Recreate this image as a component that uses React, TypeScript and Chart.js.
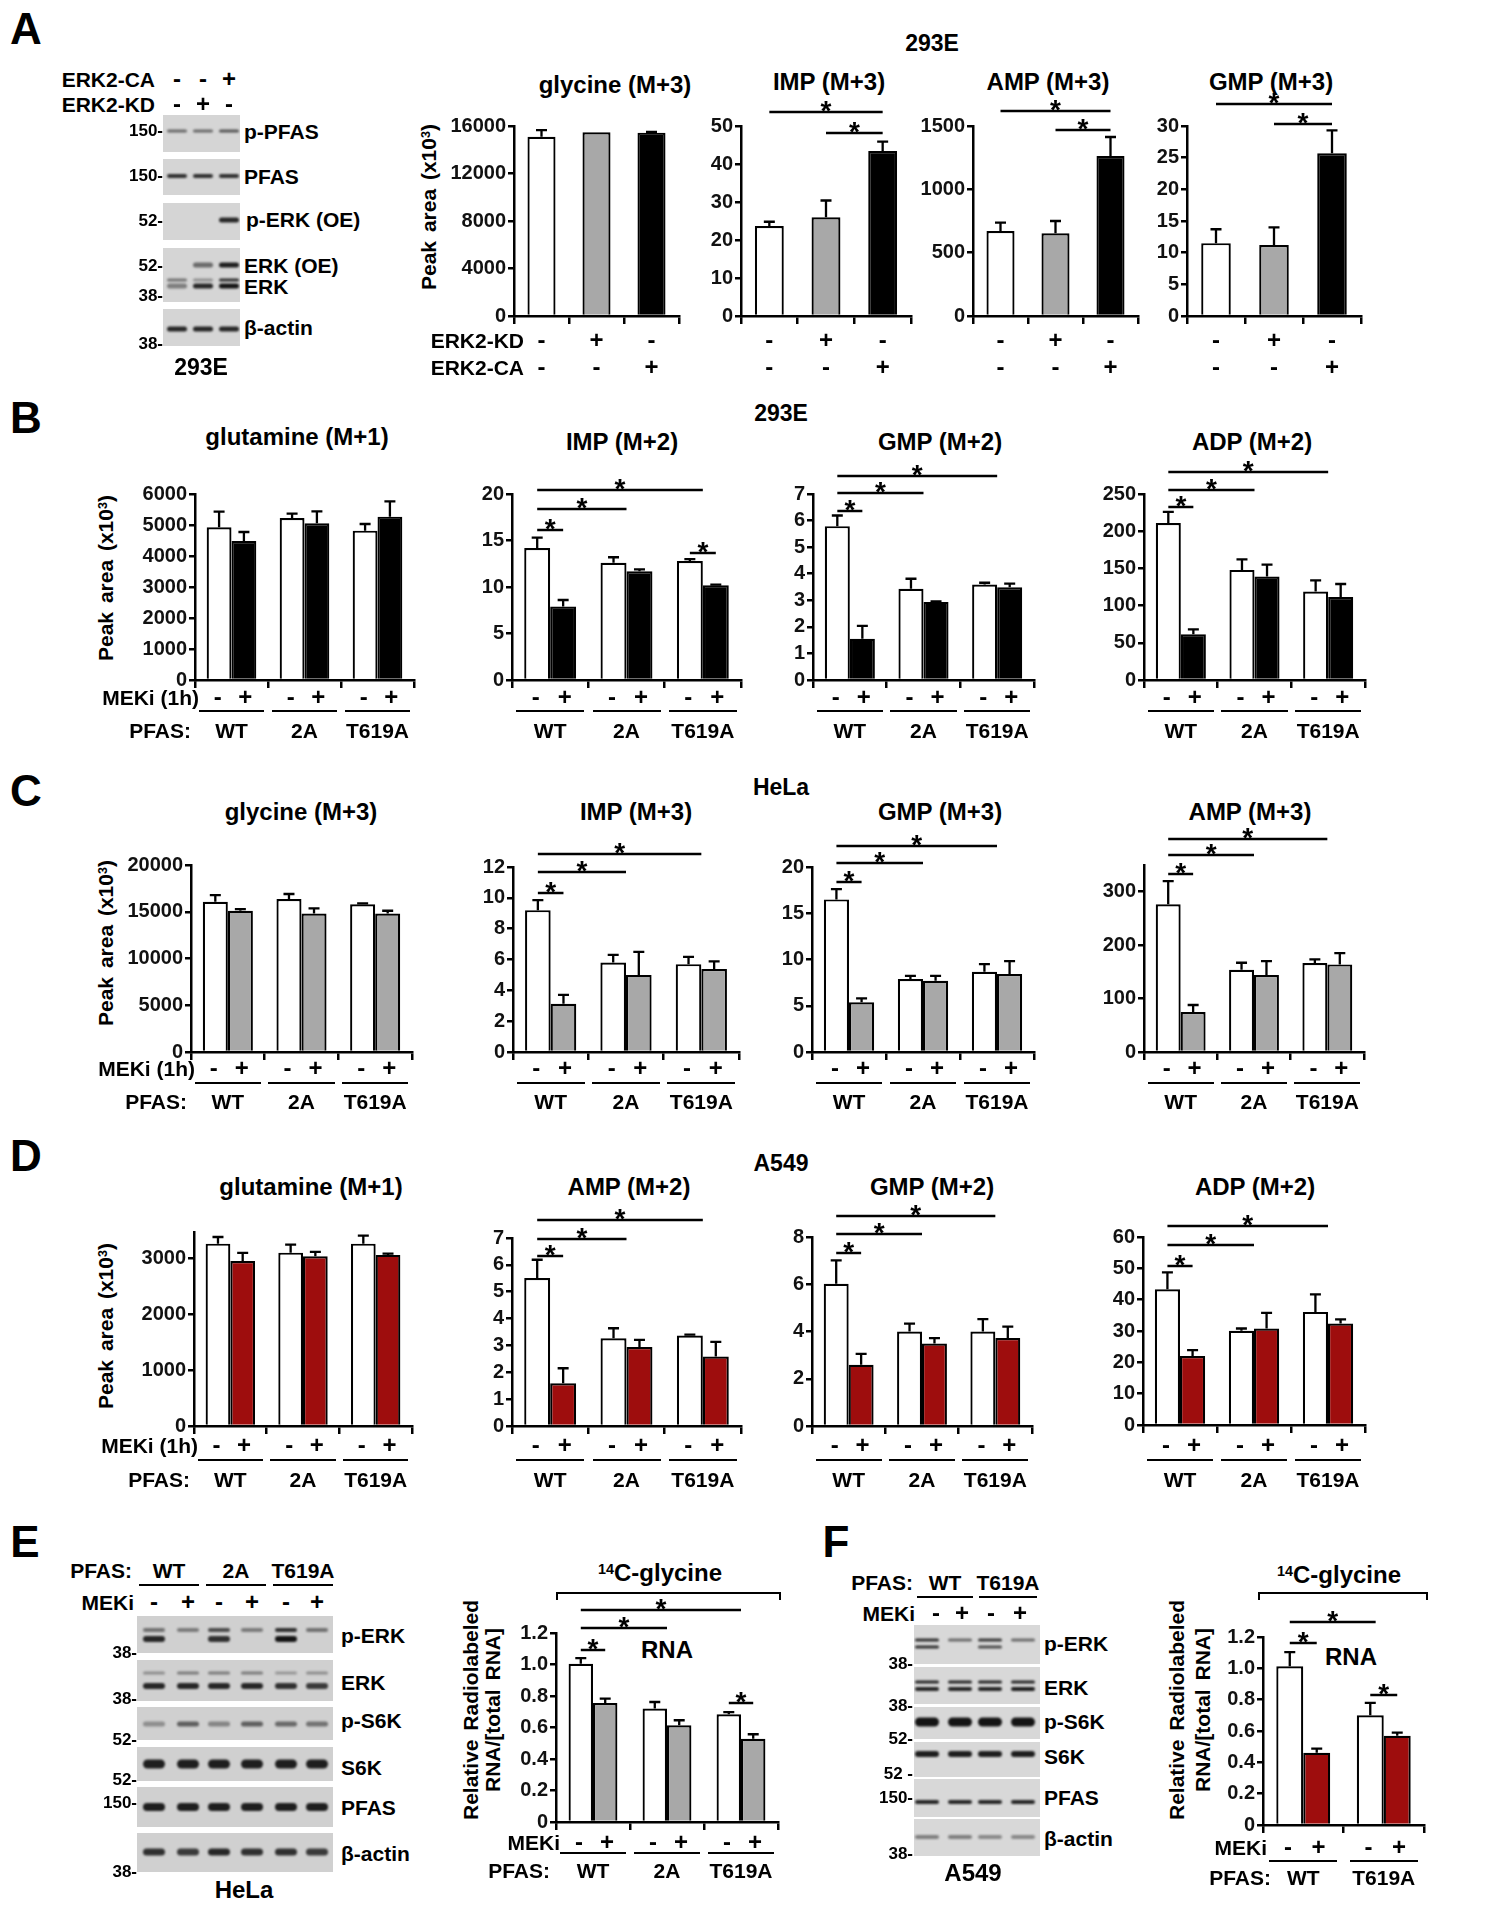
import React, { useEffect, useRef } from 'react';
import { Chart, registerables } from 'chart.js';
Chart.register(...registerables);

const FONT = '"Liberation Sans", Arial, Helvetica, sans-serif';
const WHITE = '#ffffff';
const GRAY = '#a8a8a8';
const BLACK = '#000000';
const RED = '#9e0d0d';

// ---------------- DATA ----------------
// Panel A (293E, ERK2-KD / ERK2-CA)
const A_KD_SIGNS = ['-', '+', '-'];
const A_CA_SIGNS = ['-', '-', '+'];
const A_CATS = ['ctrl', 'ERK2-KD', 'ERK2-CA'];
const A_GLY = [15100, 15470, 15440];
const A_GLY_ERR = [560, 0, 60];
const A_GLY_TICKS = [0, 4000, 8000, 12000, 16000];
const A_IMP = [23.7, 26.0, 43.4];
const A_IMP_ERR = [1.1, 4.4, 2.5];
const A_IMP_TICKS = [0, 10, 20, 30, 40, 50];
const A_AMP = [671, 653, 1263];
const A_AMP_ERR = [66, 97, 150];
const A_AMP_TICKS = [0, 500, 1000, 1500];
const A_GMP = [11.5, 11.2, 25.7];
const A_GMP_ERR = [2.2, 2.8, 3.6];
const A_GMP_TICKS = [0, 5, 10, 15, 20, 25, 30];

// groups
const PFAS3 = ['WT', '2A', 'T619A'];
const PFAS2 = ['WT', 'T619A'];
const MEKI_SIGNS = ['-', '+'];

// Panel B (293E)
const B_GLN_CTRL = [4925, 5226, 4817];
const B_GLN_CTRL_ERR = [505, 140, 215];
const B_GLN_MEKI = [4484, 5054, 5269];
const B_GLN_MEKI_ERR = [290, 387, 494];
const B_GLN_TICKS = [0, 1000, 2000, 3000, 4000, 5000, 6000];
const B_IMP_CTRL = [14.2, 12.6, 12.8];
const B_IMP_CTRL_ERR = [1.1, 0.6, 0.2];
const B_IMP_MEKI = [7.9, 11.7, 10.2];
const B_IMP_MEKI_ERR = [0.7, 0.2, 0.05];
const B_IMP_TICKS = [0, 5, 10, 15, 20];
const B_GMP_CTRL = [5.79, 3.43, 3.59];
const B_GMP_CTRL_ERR = [0.4, 0.38, 0.07];
const B_GMP_MEKI = [1.55, 2.94, 3.49];
const B_GMP_MEKI_ERR = [0.49, 0.02, 0.14];
const B_GMP_TICKS = [0, 1, 2, 3, 4, 5, 6, 7];
const B_ADP_CTRL = [211, 148, 119];
const B_ADP_CTRL_ERR = [15, 14, 15];
const B_ADP_MEKI = [61.6, 139, 111.6];
const B_ADP_MEKI_ERR = [6.4, 16, 17.4];
const B_ADP_TICKS = [0, 50, 100, 150, 200, 250];

// Panel C (HeLa)
const C_GLY_CTRL = [16070, 16360, 15790];
const C_GLY_CTRL_ERR = [715, 536, 107];
const C_GLY_MEKI = [15110, 14820, 14820];
const C_GLY_MEKI_ERR = [178, 536, 286];
const C_GLY_TICKS = [0, 5000, 10000, 15000, 20000];
const C_IMP_CTRL = [9.2, 5.8, 5.7];
const C_IMP_CTRL_ERR = [0.65, 0.5, 0.47];
const C_IMP_MEKI = [3.13, 5.0, 5.38];
const C_IMP_MEKI_ERR = [0.57, 1.49, 0.5];
const C_IMP_TICKS = [0, 2, 4, 6, 8, 10, 12];
const C_GMP_CTRL = [16.5, 7.9, 8.67];
const C_GMP_CTRL_ERR = [1.1, 0.34, 0.83];
const C_GMP_MEKI = [5.38, 7.7, 8.42];
const C_GMP_MEKI_ERR = [0.42, 0.54, 1.4];
const C_GMP_TICKS = [0, 5, 10, 15, 20];
const C_AMP_CTRL = [276.5, 154, 166.7];
const C_AMP_CTRL_ERR = [43.5, 13, 6.8];
const C_AMP_MEKI = [74.7, 144, 164];
const C_AMP_MEKI_ERR = [13.3, 26, 21];
const C_AMP_TICKS = [0, 100, 200, 300];

// Panel D (A549)
const D_GLN_CTRL = [3262, 3101, 3262];
const D_GLN_CTRL_ERR = [119, 143, 143];
const D_GLN_MEKI = [2952, 3036, 3060];
const D_GLN_MEKI_ERR = [143, 77, 23];
const D_GLN_TICKS = [0, 1000, 2000, 3000];
const D_AMP_CTRL = [5.51, 3.27, 3.37];
const D_AMP_CTRL_ERR = [0.68, 0.37, 0.03];
const D_AMP_MEKI = [1.59, 2.94, 2.59];
const D_AMP_MEKI_ERR = [0.56, 0.27, 0.54];
const D_AMP_TICKS = [0, 1, 2, 3, 4, 5, 6, 7];
const D_GMP_CTRL = [6.02, 4.0, 4.0];
const D_GMP_CTRL_ERR = [0.99, 0.33, 0.52];
const D_GMP_MEKI = [2.59, 3.49, 3.72];
const D_GMP_MEKI_ERR = [0.46, 0.23, 0.49];
const D_GMP_TICKS = [0, 2, 4, 6, 8];
const D_ADP_CTRL = [43.3, 30.1, 36.1];
const D_ADP_CTRL_ERR = [5.4, 0.7, 5.6];
const D_ADP_MEKI = [22.0, 30.8, 32.4];
const D_ADP_MEKI_ERR = [1.9, 5.0, 1.3];
const D_ADP_TICKS = [0, 10, 20, 30, 40, 50, 60];

// Panel E / F (14C-glycine RNA)
const RNA_TICKS = [0, 0.2, 0.4, 0.6, 0.8, 1.0, 1.2];
const E_CTRL = [1.005, 0.72, 0.684];
const E_CTRL_ERR = [0.035, 0.042, 0.014];
const E_MEKI = [0.756, 0.614, 0.529];
const E_MEKI_ERR = [0.027, 0.032, 0.028];
const F_CTRL = [1.013, 0.701];
const F_CTRL_ERR = [0.091, 0.078];
const F_MEKI = [0.461, 0.569];
const F_MEKI_ERR = [0.027, 0.021];

// ---------------- TYPES / HELPERS ----------------
type Series = { data: number[]; err: number[]; color: string | string[] };
type Sig = { a: [number, number]; b: [number, number]; ea?: number; eb?: number; y: number };
type Spec = {
  left: number; right: number; top: number; bottom: number;
  max: number; ticks: number[]; fmt?: (v: number) => string;
  labels: string[]; series: Series[]; catPct: number; barPct: number; sig: Sig[];
};

const YW = 90, PT = 80, PR = 14, XH = 14;

const errPlugin = {
  id: 'errbars',
  afterDatasetsDraw(chart: any) {
    const ctx = chart.ctx;
    const ys = chart.scales.y;
    chart.data.datasets.forEach((ds: any, di: number) => {
      const meta = chart.getDatasetMeta(di);
      meta.data.forEach((el: any, i: number) => {
        const e = ds.errs[i];
        if (!e) return;
        const yt = ys.getPixelForValue(ds.data[i] + e);
        ctx.save();
        ctx.strokeStyle = '#000';
        ctx.lineWidth = 2.3;
        ctx.beginPath();
        ctx.moveTo(el.x, el.y);
        ctx.lineTo(el.x, yt);
        ctx.moveTo(el.x - 5.5, yt);
        ctx.lineTo(el.x + 5.5, yt);
        ctx.stroke();
        ctx.restore();
      });
    });
  },
};

function sigPlugin(sigs: Sig[], cy: number) {
  return {
    id: 'sig',
    afterDraw(chart: any) {
      const ctx = chart.ctx;
      ctx.save();
      ctx.strokeStyle = '#000';
      ctx.fillStyle = '#000';
      ctx.lineWidth = 2.5;
      ctx.font = `bold 28px ${FONT}`;
      ctx.textAlign = 'center';
      ctx.textBaseline = 'alphabetic';
      sigs.forEach((sg) => {
        const ea = chart.getDatasetMeta(sg.a[0]).data[sg.a[1]];
        const eb = chart.getDatasetMeta(sg.b[0]).data[sg.b[1]];
        const x1 = ea.x + (sg.ea ?? 0) * ea.width / 2;
        const x2 = eb.x + (sg.eb ?? 0) * eb.width / 2;
        const y = sg.y - cy;
        ctx.beginPath();
        ctx.moveTo(x1, y);
        ctx.lineTo(x2, y);
        ctx.stroke();
        ctx.fillText('*', (x1 + x2) / 2, y + 8);
      });
      ctx.restore();
    },
  };
}

function BarChart({ s }: { s: Spec }) {
  const ref = useRef<HTMLCanvasElement>(null);
  const W = s.right - s.left + YW + PR;
  const H = s.bottom - s.top + PT + XH;
  const cx = s.left - YW;
  const cy = s.top - PT;
  useEffect(() => {
    const fmt = s.fmt || ((v: number) => String(v));
    const chart = new Chart(ref.current as HTMLCanvasElement, {
      type: 'bar',
      data: {
        labels: s.labels,
        datasets: s.series.map((se) => ({
          data: se.data,
          errs: se.err,
          backgroundColor: se.color,
          borderColor: '#000',
          borderWidth: 2.2,
          categoryPercentage: s.catPct,
          barPercentage: s.barPct,
        })) as any,
      },
      options: {
        responsive: false,
        animation: false,
        devicePixelRatio: 1,
        layout: { padding: { top: PT, right: PR, left: 0, bottom: 0 } },
        plugins: { legend: { display: false }, tooltip: { enabled: false }, title: { display: false } },
        scales: {
          x: {
            grid: { offset: true, drawOnChartArea: false, drawTicks: true, tickLength: 8, color: '#000', lineWidth: 2.5 },
            border: { color: '#000', width: 2.5 },
            ticks: { display: false },
            afterFit: (sc: any) => { sc.height = XH; },
          },
          y: {
            min: 0,
            max: s.max,
            grid: { drawOnChartArea: false, tickLength: 6, color: '#000', lineWidth: 2.5 },
            border: { color: '#000', width: 2.5 },
            ticks: {
              color: '#111',
              padding: 2,
              font: { size: 20, weight: 'bold', family: FONT },
              callback: (v: any) => fmt(Number(v)),
            },
            afterBuildTicks: (sc: any) => { sc.ticks = s.ticks.map((v) => ({ value: v })); },
            afterFit: (sc: any) => { sc.width = YW; },
          },
        },
      } as any,
      plugins: [errPlugin, sigPlugin(s.sig, cy)],
    });
    return () => chart.destroy();
  }, []);
  return <canvas ref={ref} width={W} height={H} style={{ position: 'absolute', left: cx, top: cy }} />;
}

function Txt({ x, y, size = 21, align = 'center', weight = 700, children, style }: any) {
  const tx = align === 'center' ? '-50%' : align === 'right' ? '-100%' : '0';
  return (
    <div style={{ position: 'absolute', left: x, top: y, transform: `translate(${tx}, -50%)`, fontSize: size, fontWeight: weight, lineHeight: 1, whiteSpace: 'nowrap', ...style }}>
      {children}
    </div>
  );
}

function VTitle({ x, y, size = 21, children, lh = 1.15 }: any) {
  return (
    <div style={{ position: 'absolute', left: x, top: y, transform: 'translate(-50%, -50%) rotate(-90deg)', fontSize: size, fontWeight: 700, lineHeight: lh, whiteSpace: 'nowrap', textAlign: 'center', wordSpacing: 3 }}>
      {children}
    </div>
  );
}

function HLine({ x1, x2, y, w = 2.5 }: any) {
  return <div style={{ position: 'absolute', left: x1, top: y - w / 2, width: x2 - x1, height: w, background: '#000' }} />;
}

const Sup = ({ children }: any) => <span style={{ fontSize: '0.6em', position: 'relative', top: '-0.5em' }}>{children}</span>;
const PeakTitle = () => <>Peak area (x10<Sup>3</Sup>)</>;

function GroupRows({ s, ys, meki, pfasDx }: { s: Spec; ys: number[]; meki?: string; pfasDx?: number }) {
  const n = s.labels.length;
  const gw = (s.right - s.left) / n;
  const out: any[] = [];
  s.labels.forEach((lab, i) => {
    const c = s.left + (i + 0.5) * gw;
    const d = 0.19 * gw;
    out.push(<Txt key={'m' + i} x={c - d} y={ys[0]} size={24}>{MEKI_SIGNS[0]}</Txt>);
    out.push(<Txt key={'p' + i} x={c + d} y={ys[0]} size={24}>{MEKI_SIGNS[1]}</Txt>);
    const hw = Math.min(0.45 * gw, 34);
    out.push(<HLine key={'l' + i} x1={c - hw} x2={c + hw} y={ys[1]} />);
    out.push(<Txt key={'n' + i} x={c} y={ys[2]}>{lab}</Txt>);
  });
  if (meki) out.push(<Txt key="meki" x={s.left + 4} y={ys[0]} align="right">{meki}</Txt>);
  if (pfasDx !== undefined) out.push(<Txt key="pfas" x={s.left + pfasDx} y={ys[2]} align="right">PFAS:</Txt>);
  return <>{out}</>;
}

function ARows({ s, first }: { s: Spec; first?: boolean }) {
  const gw = (s.right - s.left) / 3;
  const out: any[] = [];
  for (let i = 0; i < 3; i++) {
    const c = s.left + (i + 0.5) * gw;
    out.push(<Txt key={'k' + i} x={c} y={340} size={24}>{A_KD_SIGNS[i]}</Txt>);
    out.push(<Txt key={'c' + i} x={c} y={367} size={24}>{A_CA_SIGNS[i]}</Txt>);
  }
  if (first) {
    out.push(<Txt key="kd" x={s.left + 10} y={340} align="right">ERK2-KD</Txt>);
    out.push(<Txt key="ca" x={s.left + 10} y={367} align="right">ERK2-CA</Txt>);
  }
  return <>{out}</>;
}

type Band = { y: number; h: number; v: number[] };
type Strip = { y0: number; y1: number; bands: Band[] };

function Blot({ x0, x1, lanes, laneW, strips, bg }: { x0: number; x1: number; lanes: number[]; laneW: number; strips: Strip[]; bg: string }) {
  const ref = useRef<HTMLCanvasElement>(null);
  const top = Math.min(...strips.map((s) => s.y0));
  const bottom = Math.max(...strips.map((s) => s.y1));
  useEffect(() => {
    const ctx = (ref.current as HTMLCanvasElement).getContext('2d') as CanvasRenderingContext2D;
    ctx.clearRect(0, 0, x1 - x0, bottom - top);
    strips.forEach((st) => {
      ctx.fillStyle = bg;
      ctx.fillRect(0, st.y0 - top, x1 - x0, st.y1 - st.y0);
      st.bands.forEach((b) => {
        b.v.forEach((v, i) => {
          if (v <= 0) return;
          ctx.save();
          ctx.filter = 'blur(0.8px)';
          ctx.fillStyle = `rgba(20,20,20,${v})`;
          const cxx = lanes[i] - x0;
          ctx.beginPath();
          (ctx as any).roundRect(cxx - laneW / 2, b.y - top - b.h / 2, laneW, b.h, b.h / 2);
          ctx.fill();
          ctx.restore();
        });
      });
    });
  }, []);
  return <canvas ref={ref} width={x1 - x0} height={bottom - top} style={{ position: 'absolute', left: x0, top }} />;
}

// ---------------- CHART SPECS ----------------
const sig3 = (y1: number, y2: number, y3: number): Sig[] => [
  { a: [0, 0], b: [1, 0], y: y1 },
  { a: [0, 0], b: [0, 1], eb: 1, y: y2 },
  { a: [0, 0], b: [0, 2], eb: 1, y: y3 },
];
const aSig = (y1: number, y2: number): Sig[] => [
  { a: [0, 0], b: [0, 2], y: y1 },
  { a: [0, 1], b: [0, 2], y: y2 },
];
const A_COLORS = [WHITE, GRAY, BLACK];
const pair = (c: number[], ce: number[], m: number[], me: number[], col: string): Series[] => [
  { data: c, err: ce, color: WHITE },
  { data: m, err: me, color: col },
];

const S: Record<string, Spec> = {
  A1: { left: 514, right: 679, top: 126, bottom: 316, max: 16000, ticks: A_GLY_TICKS, labels: A_CATS, series: [{ data: A_GLY, err: A_GLY_ERR, color: A_COLORS }], catPct: 1, barPct: 0.51, sig: [] },
  A2: { left: 741, right: 911, top: 126, bottom: 316, max: 50, ticks: A_IMP_TICKS, labels: A_CATS, series: [{ data: A_IMP, err: A_IMP_ERR, color: A_COLORS }], catPct: 1, barPct: 0.51, sig: aSig(112, 133) },
  A3: { left: 973, right: 1138, top: 126, bottom: 316, max: 1500, ticks: A_AMP_TICKS, labels: A_CATS, series: [{ data: A_AMP, err: A_AMP_ERR, color: A_COLORS }], catPct: 1, barPct: 0.51, sig: aSig(111, 130) },
  A4: { left: 1187, right: 1361, top: 126, bottom: 316, max: 30, ticks: A_GMP_TICKS, labels: A_CATS, series: [{ data: A_GMP, err: A_GMP_ERR, color: A_COLORS }], catPct: 1, barPct: 0.51, sig: aSig(104, 124) },

  B1: { left: 195, right: 414, top: 494, bottom: 680, max: 6000, ticks: B_GLN_TICKS, labels: PFAS3, series: pair(B_GLN_CTRL, B_GLN_CTRL_ERR, B_GLN_MEKI, B_GLN_MEKI_ERR, BLACK), catPct: 0.68, barPct: 1, sig: [] },
  B2: { left: 512, right: 741, top: 494, bottom: 680, max: 20, ticks: B_IMP_TICKS, labels: PFAS3, series: pair(B_IMP_CTRL, B_IMP_CTRL_ERR, B_IMP_MEKI, B_IMP_MEKI_ERR, BLACK), catPct: 0.68, barPct: 1, sig: [...sig3(530, 509, 490), { a: [0, 2], b: [1, 2], y: 553 }] },
  B3: { left: 813, right: 1034, top: 494, bottom: 680, max: 7, ticks: B_GMP_TICKS, labels: PFAS3, series: pair(B_GMP_CTRL, B_GMP_CTRL_ERR, B_GMP_MEKI, B_GMP_MEKI_ERR, BLACK), catPct: 0.68, barPct: 1, sig: sig3(511, 493, 476) },
  B4: { left: 1144, right: 1365, top: 494, bottom: 680, max: 250, ticks: B_ADP_TICKS, labels: PFAS3, series: pair(B_ADP_CTRL, B_ADP_CTRL_ERR, B_ADP_MEKI, B_ADP_MEKI_ERR, BLACK), catPct: 0.68, barPct: 1, sig: sig3(507, 490, 472) },

  C1: { left: 191, right: 412, top: 865, bottom: 1052, max: 20000, ticks: C_GLY_TICKS, labels: PFAS3, series: pair(C_GLY_CTRL, C_GLY_CTRL_ERR, C_GLY_MEKI, C_GLY_MEKI_ERR, GRAY), catPct: 0.68, barPct: 1, sig: [] },
  C2: { left: 513, right: 739, top: 867, bottom: 1052, max: 12, ticks: C_IMP_TICKS, labels: PFAS3, series: pair(C_IMP_CTRL, C_IMP_CTRL_ERR, C_IMP_MEKI, C_IMP_MEKI_ERR, GRAY), catPct: 0.68, barPct: 1, sig: sig3(893, 872, 854) },
  C3: { left: 812, right: 1034, top: 867, bottom: 1052, max: 20, ticks: C_GMP_TICKS, labels: PFAS3, series: pair(C_GMP_CTRL, C_GMP_CTRL_ERR, C_GMP_MEKI, C_GMP_MEKI_ERR, GRAY), catPct: 0.68, barPct: 1, sig: sig3(882, 863, 846) },
  C4: { left: 1144, right: 1364, top: 865, bottom: 1052, max: 350, ticks: C_AMP_TICKS, labels: PFAS3, series: pair(C_AMP_CTRL, C_AMP_CTRL_ERR, C_AMP_MEKI, C_AMP_MEKI_ERR, GRAY), catPct: 0.68, barPct: 1, sig: sig3(874, 855, 839) },

  D1: { left: 194, right: 412, top: 1232, bottom: 1426, max: 3470, ticks: D_GLN_TICKS, labels: PFAS3, series: pair(D_GLN_CTRL, D_GLN_CTRL_ERR, D_GLN_MEKI, D_GLN_MEKI_ERR, RED), catPct: 0.68, barPct: 1, sig: [] },
  D2: { left: 512, right: 741, top: 1238, bottom: 1426, max: 7, ticks: D_AMP_TICKS, labels: PFAS3, series: pair(D_AMP_CTRL, D_AMP_CTRL_ERR, D_AMP_MEKI, D_AMP_MEKI_ERR, RED), catPct: 0.68, barPct: 1, sig: sig3(1256, 1239, 1220) },
  D3: { left: 812, right: 1032, top: 1237, bottom: 1426, max: 8, ticks: D_GMP_TICKS, labels: PFAS3, series: pair(D_GMP_CTRL, D_GMP_CTRL_ERR, D_GMP_MEKI, D_GMP_MEKI_ERR, RED), catPct: 0.68, barPct: 1, sig: sig3(1253, 1234, 1216) },
  D4: { left: 1143, right: 1365, top: 1237, bottom: 1425, max: 60, ticks: D_ADP_TICKS, labels: PFAS3, series: pair(D_ADP_CTRL, D_ADP_CTRL_ERR, D_ADP_MEKI, D_ADP_MEKI_ERR, RED), catPct: 0.68, barPct: 1, sig: sig3(1266, 1245, 1226) },

  E: { left: 556, right: 778, top: 1633, bottom: 1822, max: 1.2, ticks: RNA_TICKS, fmt: (v) => (v === 0 ? '0' : v.toFixed(1)), labels: PFAS3, series: pair(E_CTRL, E_CTRL_ERR, E_MEKI, E_MEKI_ERR, GRAY), catPct: 0.66, barPct: 1, sig: [...sig3(1650, 1628, 1610), { a: [0, 2], b: [1, 2], y: 1703 }] },
  F: { left: 1263, right: 1424, top: 1637, bottom: 1825, max: 1.2, ticks: RNA_TICKS, fmt: (v) => (v === 0 ? '0' : v.toFixed(1)), labels: PFAS2, series: pair(F_CTRL, F_CTRL_ERR, F_MEKI, F_MEKI_ERR, RED), catPct: 0.67, barPct: 1, sig: [{ a: [0, 0], b: [1, 0], y: 1643 }, { a: [0, 0], b: [0, 1], eb: 0.4, y: 1622 }, { a: [0, 1], b: [1, 1], y: 1695 }] },
};

// ---------------- BLOT LAYOUTS ----------------
const BLOT_A: Strip[] = [
  { y0: 115, y1: 152, bands: [{ y: 131, h: 3, v: [0.55, 0.55, 0.65] }] },
  { y0: 159, y1: 195, bands: [{ y: 176, h: 4, v: [0.85, 0.85, 0.85] }] },
  { y0: 203, y1: 240, bands: [{ y: 220, h: 5, v: [0, 0, 0.9] }] },
  { y0: 248, y1: 302, bands: [{ y: 265, h: 5, v: [0, 0.55, 0.95] }, { y: 280, h: 3, v: [0.5, 0.35, 0.85] }, { y: 286, h: 5, v: [0.45, 0.9, 1] }] },
  { y0: 309, y1: 346, bands: [{ y: 329, h: 5, v: [0.9, 0.9, 0.9] }] },
];
const BLOT_E: Strip[] = [
  { y0: 1616, y1: 1653, bands: [{ y: 1630, h: 4, v: [0.5, 0.45, 0.7, 0.45, 0.85, 0.5] }, { y: 1639, h: 6, v: [0.9, 0, 0.85, 0, 1, 0] }] },
  { y0: 1660, y1: 1701, bands: [{ y: 1673, h: 3, v: [0.35, 0.45, 0.45, 0.45, 0.3, 0.35] }, { y: 1686, h: 6, v: [0.9, 0.9, 0.9, 0.9, 0.85, 0.8] }] },
  { y0: 1707, y1: 1740, bands: [{ y: 1724, h: 5, v: [0.35, 0.6, 0.4, 0.6, 0.55, 0.5] }] },
  { y0: 1747, y1: 1781, bands: [{ y: 1764, h: 9, v: [0.95, 0.95, 0.95, 0.95, 0.95, 0.95] }] },
  { y0: 1787, y1: 1827, bands: [{ y: 1807, h: 8, v: [0.95, 0.95, 0.95, 0.95, 0.95, 0.95] }] },
  { y0: 1833, y1: 1872, bands: [{ y: 1852, h: 7, v: [0.85, 0.8, 0.9, 0.85, 0.85, 0.8] }] },
];
const BLOT_F: Strip[] = [
  { y0: 1625, y1: 1664, bands: [{ y: 1640, h: 3, v: [0.85, 0.55, 0.8, 0.55] }, { y: 1647, h: 3, v: [0.85, 0, 0.7, 0] }] },
  { y0: 1667, y1: 1704, bands: [{ y: 1682, h: 3, v: [0.9, 0.9, 0.9, 0.9] }, { y: 1689, h: 4, v: [0.9, 0.9, 0.9, 0.95] }] },
  { y0: 1707, y1: 1739, bands: [{ y: 1722, h: 9, v: [1, 1, 1, 1] }] },
  { y0: 1742, y1: 1777, bands: [{ y: 1754, h: 6, v: [0.95, 0.95, 0.95, 0.95] }] },
  { y0: 1779, y1: 1817, bands: [{ y: 1802, h: 4, v: [0.9, 0.9, 0.9, 0.9] }] },
  { y0: 1819, y1: 1856, bands: [{ y: 1837, h: 4, v: [0.45, 0.45, 0.4, 0.4] }] },
];

export default function App() {
  const ML = 17; // MW label font size
  const LS = 44; // panel letter size
  return (
    <div style={{ position: 'absolute', left: 0, top: 0, width: 1494, height: 1920, background: '#fff', overflow: 'hidden', fontFamily: FONT, color: '#000' }}>
      {/* Panel letters */}
      <Txt x={26} y={29} size={LS}>A</Txt>
      <Txt x={26} y={418} size={LS}>B</Txt>
      <Txt x={26} y={791} size={LS}>C</Txt>
      <Txt x={26} y={1156} size={LS}>D</Txt>
      <Txt x={25} y={1542} size={LS}>E</Txt>
      <Txt x={836} y={1542} size={LS}>F</Txt>

      {/* ---- Panel A blot ---- */}
      <Blot x0={163} x1={240} lanes={[177, 203, 229]} laneW={20} strips={BLOT_A} bg="#d5d5d5" />
      <Txt x={155} y={79} align="right">ERK2-CA</Txt>
      <Txt x={155} y={104} align="right">ERK2-KD</Txt>
      {A_CA_SIGNS.map((t, i) => <Txt key={'aca' + i} x={[177, 203, 229][i]} y={79} size={24}>{t}</Txt>)}
      {A_KD_SIGNS.map((t, i) => <Txt key={'akd' + i} x={[177, 203, 229][i]} y={104} size={24}>{t}</Txt>)}
      <Txt x={163} y={130} size={ML} align="right">150-</Txt>
      <Txt x={163} y={175} size={ML} align="right">150-</Txt>
      <Txt x={163} y={220} size={ML} align="right">52-</Txt>
      <Txt x={163} y={265} size={ML} align="right">52-</Txt>
      <Txt x={163} y={295} size={ML} align="right">38-</Txt>
      <Txt x={163} y={343} size={ML} align="right">38-</Txt>
      <Txt x={244} y={131} align="left">p-PFAS</Txt>
      <Txt x={244} y={176} align="left">PFAS</Txt>
      <Txt x={246} y={219} align="left">p-ERK (OE)</Txt>
      <Txt x={244} y={265} align="left">ERK (OE)</Txt>
      <Txt x={244} y={286} align="left">ERK</Txt>
      <Txt x={244} y={327} align="left">β-actin</Txt>
      <Txt x={201} y={367} size={23}>293E</Txt>

      {/* ---- Panel A charts ---- */}
      <Txt x={932} y={43} size={23}>293E</Txt>
      <Txt x={615} y={85} size={24}>glycine (M+3)</Txt>
      <Txt x={829} y={82} size={24}>IMP (M+3)</Txt>
      <Txt x={1048} y={82} size={24}>AMP (M+3)</Txt>
      <Txt x={1271} y={82} size={24}>GMP (M+3)</Txt>
      <VTitle x={429} y={207}><PeakTitle /></VTitle>
      <BarChart s={S.A1} />
      <BarChart s={S.A2} />
      <BarChart s={S.A3} />
      <BarChart s={S.A4} />
      <ARows s={S.A1} first />
      <ARows s={S.A2} />
      <ARows s={S.A3} />
      <ARows s={S.A4} />

      {/* ---- Panel B ---- */}
      <Txt x={781} y={413} size={23}>293E</Txt>
      <Txt x={297} y={437} size={24}>glutamine (M+1)</Txt>
      <Txt x={622} y={442} size={24}>IMP (M+2)</Txt>
      <Txt x={940} y={442} size={24}>GMP (M+2)</Txt>
      <Txt x={1252} y={442} size={24}>ADP (M+2)</Txt>
      <VTitle x={106} y={578}><PeakTitle /></VTitle>
      <BarChart s={S.B1} />
      <BarChart s={S.B2} />
      <BarChart s={S.B3} />
      <BarChart s={S.B4} />
      <GroupRows s={S.B1} ys={[697, 711, 730]} meki="MEKi (1h)" pfasDx={-4} />
      <GroupRows s={S.B2} ys={[697, 711, 730]} />
      <GroupRows s={S.B3} ys={[697, 711, 730]} />
      <GroupRows s={S.B4} ys={[697, 711, 730]} />

      {/* ---- Panel C ---- */}
      <Txt x={781} y={787} size={23}>HeLa</Txt>
      <Txt x={301} y={812} size={24}>glycine (M+3)</Txt>
      <Txt x={636} y={812} size={24}>IMP (M+3)</Txt>
      <Txt x={940} y={812} size={24}>GMP (M+3)</Txt>
      <Txt x={1250} y={812} size={24}>AMP (M+3)</Txt>
      <VTitle x={106} y={943}><PeakTitle /></VTitle>
      <BarChart s={S.C1} />
      <BarChart s={S.C2} />
      <BarChart s={S.C3} />
      <BarChart s={S.C4} />
      <GroupRows s={S.C1} ys={[1068, 1083, 1101]} meki="MEKi (1h)" pfasDx={-4} />
      <GroupRows s={S.C2} ys={[1068, 1083, 1101]} />
      <GroupRows s={S.C3} ys={[1068, 1083, 1101]} />
      <GroupRows s={S.C4} ys={[1068, 1083, 1101]} />

      {/* ---- Panel D ---- */}
      <Txt x={781} y={1163} size={23}>A549</Txt>
      <Txt x={311} y={1187} size={24}>glutamine (M+1)</Txt>
      <Txt x={629} y={1187} size={24}>AMP (M+2)</Txt>
      <Txt x={932} y={1187} size={24}>GMP (M+2)</Txt>
      <Txt x={1255} y={1187} size={24}>ADP (M+2)</Txt>
      <VTitle x={106} y={1326}><PeakTitle /></VTitle>
      <BarChart s={S.D1} />
      <BarChart s={S.D2} />
      <BarChart s={S.D3} />
      <BarChart s={S.D4} />
      <GroupRows s={S.D1} ys={[1445, 1460, 1479]} meki="MEKi (1h)" pfasDx={-4} />
      <GroupRows s={S.D2} ys={[1445, 1460, 1479]} />
      <GroupRows s={S.D3} ys={[1445, 1460, 1479]} />
      <GroupRows s={S.D4} ys={[1445, 1460, 1479]} />

      {/* ---- Panel E blot ---- */}
      <Blot x0={137} x1={333} lanes={[154, 188, 219, 252, 286, 317]} laneW={22} strips={BLOT_E} bg="#d0d0d0" />
      <Txt x={132} y={1570} align="right">PFAS:</Txt>
      <Txt x={169} y={1570}>WT</Txt>
      <Txt x={236} y={1570}>2A</Txt>
      <Txt x={303} y={1570}>T619A</Txt>
      <HLine x1={139} x2={199} y={1585} />
      <HLine x1={206} x2={266} y={1585} />
      <HLine x1={273} x2={333} y={1585} />
      <Txt x={134} y={1602} align="right">MEKi</Txt>
      {[154, 188, 219, 252, 286, 317].map((x, i) => <Txt key={'es' + i} x={x} y={1602} size={24}>{MEKI_SIGNS[i % 2]}</Txt>)}
      <Txt x={137} y={1652} size={ML} align="right">38-</Txt>
      <Txt x={137} y={1698} size={ML} align="right">38-</Txt>
      <Txt x={137} y={1739} size={ML} align="right">52-</Txt>
      <Txt x={137} y={1779} size={ML} align="right">52-</Txt>
      <Txt x={137} y={1802} size={ML} align="right">150-</Txt>
      <Txt x={137} y={1871} size={ML} align="right">38-</Txt>
      <Txt x={341} y={1635} align="left">p-ERK</Txt>
      <Txt x={341} y={1682} align="left">ERK</Txt>
      <Txt x={341} y={1720} align="left">p-S6K</Txt>
      <Txt x={341} y={1767} align="left">S6K</Txt>
      <Txt x={341} y={1807} align="left">PFAS</Txt>
      <Txt x={341} y={1853} align="left">β-actin</Txt>
      <Txt x={244} y={1890} size={24}>HeLa</Txt>

      {/* ---- Panel E chart ---- */}
      <Txt x={660} y={1573} size={24}><Sup>14</Sup>C-glycine</Txt>
      <div style={{ position: 'absolute', left: 556, top: 1592, width: 225, height: 8, borderTop: '2.5px solid #000', borderLeft: '2.5px solid #000', borderRight: '2.5px solid #000', boxSizing: 'border-box' }} />
      <Txt x={667} y={1650} size={24}>RNA</Txt>
      <VTitle x={482} y={1710} lh={1.05}>Relative Radiolabeled<br />RNA/[total RNA]</VTitle>
      <BarChart s={S.E} />
      <GroupRows s={S.E} ys={[1842, 1853, 1870]} meki="MEKi" pfasDx={-6} />

      {/* ---- Panel F blot ---- */}
      <Blot x0={914} x1={1040} lanes={[927, 960, 990, 1023]} laneW={24} strips={BLOT_F} bg="#d8d8d8" />
      <Txt x={913} y={1582} align="right">PFAS:</Txt>
      <Txt x={945} y={1582}>WT</Txt>
      <Txt x={1008} y={1582}>T619A</Txt>
      <HLine x1={917} x2={973} y={1597} />
      <HLine x1={979} x2={1037} y={1597} />
      <Txt x={915} y={1613} align="right">MEKi</Txt>
      {[936, 962, 991, 1020].map((x, i) => <Txt key={'fs' + i} x={x} y={1613} size={24}>{MEKI_SIGNS[i % 2]}</Txt>)}
      <Txt x={913} y={1663} size={ML} align="right">38-</Txt>
      <Txt x={913} y={1705} size={ML} align="right">38-</Txt>
      <Txt x={913} y={1738} size={ML} align="right">52-</Txt>
      <Txt x={913} y={1773} size={ML} align="right">52 -</Txt>
      <Txt x={913} y={1797} size={ML} align="right">150-</Txt>
      <Txt x={913} y={1853} size={ML} align="right">38-</Txt>
      <Txt x={1044} y={1643} align="left">p-ERK</Txt>
      <Txt x={1044} y={1687} align="left">ERK</Txt>
      <Txt x={1044} y={1721} align="left">p-S6K</Txt>
      <Txt x={1044} y={1756} align="left">S6K</Txt>
      <Txt x={1044} y={1797} align="left">PFAS</Txt>
      <Txt x={1044} y={1838} align="left">β-actin</Txt>
      <Txt x={973} y={1873} size={24}>A549</Txt>

      {/* ---- Panel F chart ---- */}
      <Txt x={1339} y={1575} size={24}><Sup>14</Sup>C-glycine</Txt>
      <div style={{ position: 'absolute', left: 1258, top: 1592, width: 170, height: 8, borderTop: '2.5px solid #000', borderLeft: '2.5px solid #000', borderRight: '2.5px solid #000', boxSizing: 'border-box' }} />
      <Txt x={1351} y={1657} size={24}>RNA</Txt>
      <VTitle x={1190} y={1710} lh={1.25}>Relative Radiolabeled<br />RNA/[total RNA]</VTitle>
      <BarChart s={S.F} />
      <GroupRows s={S.F} ys={[1847, 1861, 1877]} meki="MEKi" pfasDx={8} />
    </div>
  );
}
